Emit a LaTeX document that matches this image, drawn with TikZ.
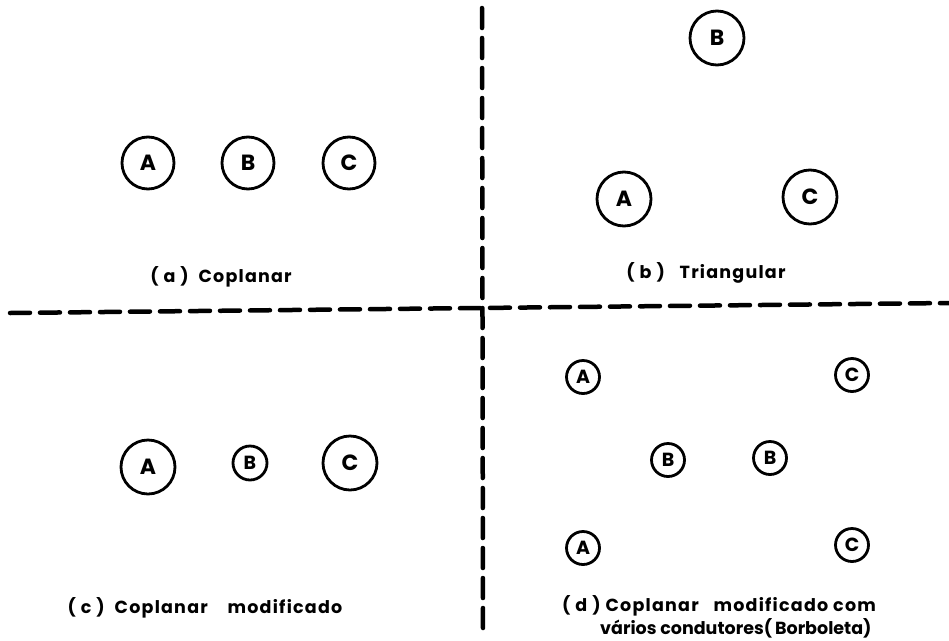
\documentclass[tikz,border=0pt]{standalone}
\usepackage{fontspec}
\setmainfont{Poppins}
\begin{document}
\begin{tikzpicture}[x=1pt,y=-1pt,
  cond/.style={circle,draw,line width=2.8pt,inner sep=0pt,font=\fontsize{22}{22}\selectfont\bfseries},
  big/.style={cond,minimum size=52pt},
  small/.style={cond,minimum size=33pt,font=\fontsize{19}{19}\selectfont\bfseries},
  caption/.style={inner sep=0pt,font=\fontsize{17.5}{20}\selectfont\bfseries\addfontfeature{LetterSpace=7}},
  tight/.style={font=\fontsize{17.5}{20}\selectfont\bfseries},
  sep/.style={line width=4.5pt,line cap=round,dash pattern=on 20pt off 10pt}]
\useasboundingbox (0,0) rectangle (949,640);
% separators
\coordinate (hl) at (10,313);
\coordinate (hr) at (949,303);
\coordinate (vt) at (482,8);
\coordinate (vb) at (483,636);
\draw[sep] (hl) -- (hr);
\draw[sep] (vt) -- (vb);
% (a)
\node[big] (aA) at (148,163) {A};
\node[big] (aB) at (248,163) {B};
\node[big] (aC) at (349,163) {C};
\node[caption] (la) at (221,277) {( a )\ \ Coplanar};
% (b)
\node[big,minimum size=54pt] (bB) at (717,38) {B};
\node[big,minimum size=54pt] (bA) at (624,199) {A};
\node[big,minimum size=54pt] (bC) at (810,197) {C};
\node[caption] (lb) at (706,273) {( b )\ \ \ Triangular};
% (c)
\node[big,minimum size=54pt] (cA) at (148,467) {A};
\node[small,minimum size=34pt] (cB) at (250,463) {B};
\node[big,minimum size=54pt] (cC) at (350,463) {C};
\node[caption] (lc) at (205,608) {( c )\ \ Coplanar\ \ \ \ modificado};
% (d)
\node[small] (dA1) at (583,377) {A};
\node[small] (dC1) at (852,375) {C};
\node[small] (dB1) at (668,460) {B};
\node[small] (dB2) at (770,458) {B};
\node[small] (dA2) at (583,548) {A};
\node[small] (dC2) at (852,545) {C};
\node[caption,anchor=west] (ld1) at (562,606) {( d )\ Coplanar\ \ \ modificado\ com};
\node[caption,tight,anchor=west] (ld2) at (600,628) {vários condutores(\,Borboleta)};
\end{tikzpicture}
\end{document}
